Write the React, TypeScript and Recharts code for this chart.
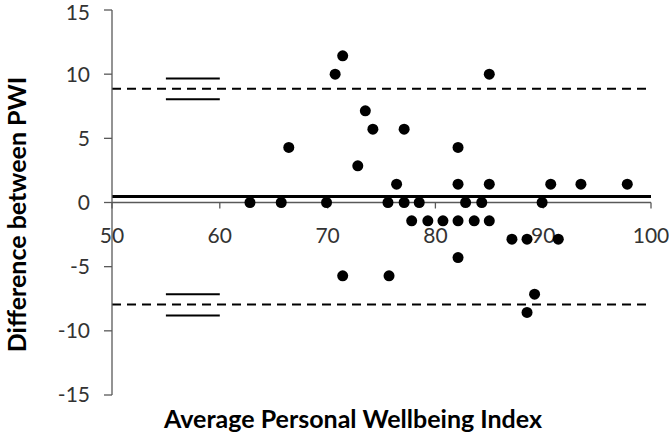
import React from 'react'
import {
  ScatterChart, Scatter, XAxis, YAxis, ReferenceLine, ReferenceDot, Label,
} from 'recharts'

// Bland-Altman: average PWI vs difference
const avgPWI = [
  62.8, 65.7, 69.9, 75.6, 66.4, 70.7, 71.4, 73.5, 74.2, 72.8,
  85.0, 77.1, 82.1, 76.4, 82.1, 85.0, 90.7, 93.5, 97.8,
  77.1, 78.5, 82.8, 84.3, 89.9,
  77.8, 79.3, 80.7, 82.1, 83.6, 85.0,
  87.1, 88.5, 91.4, 82.1, 75.7, 71.4, 89.2, 88.5,
]
const diffPWI = [
  0, 0, 0, 0, 4.29, 10, 11.43, 7.14, 5.71, 2.86,
  10, 5.71, 4.29, 1.43, 1.43, 1.43, 1.43, 1.43, 1.43,
  0, 0, 0, 0, 0,
  -1.43, -1.43, -1.43, -1.43, -1.43, -1.43,
  -2.86, -2.86, -2.86, -4.29, -5.71, -5.71, -7.14, -8.57,
]

const meanDiff = 0.47
const upperLoA = 8.86
const lowerLoA = -7.95
// 95% CI bars of the limits, drawn at x 55..60
const ciX = [55, 60]
const ciValues = [9.66, 8.05, -7.15, -8.8]

const xTicks = [50, 60, 70, 80, 90, 100]
const yTicks = [-15, -10, -5, 0, 5, 10, 15]

const points = avgPWI.map((x, i) => ({ x, y: diffPWI[i] }))

const FONT = 'Lato, "Open Sans", sans-serif'
const AXIS = '#595959'
const TEXT = '#333'

function XTick(label: number) {
  return (p: any) => (
    <g>
      <line x1={p.cx} y1={p.cy} x2={p.cx} y2={p.cy + 6} stroke={AXIS} strokeWidth={1.3} />
      <text x={p.cx} y={p.cy + 40} textAnchor="middle" fontSize={21} fill={TEXT} fontFamily={FONT}>
        {label}
      </text>
    </g>
  )
}

function YTitle(props: any) {
  const vb = props.viewBox || { x: 0, y: 10, width: 112, height: 385 }
  const x = 15.5
  const y = vb.y + vb.height / 2 + 12
  return (
    <text x={x} y={y} transform={`rotate(-90, ${x}, ${y})`} textAnchor="middle"
      dominantBaseline="central" fontSize={25} fontWeight={700} fill="#000" fontFamily={FONT}>
      Difference between PWI
    </text>
  )
}

export default function App() {
  return (
    <div style={{ position: 'absolute', left: 0, top: 0, width: 669, height: 435, background: '#fff' }}>
      <ScatterChart width={669} height={435} margin={{ top: 10, right: 18, bottom: 40, left: 0 }}>
        <XAxis type="number" dataKey="x" domain={[50, 100]} ticks={xTicks} hide />
        <YAxis
          type="number"
          dataKey="y"
          domain={[-15, 15]}
          ticks={yTicks}
          width={112}
          axisLine={{ stroke: AXIS, strokeWidth: 1.3 }}
          tickLine={{ stroke: AXIS, strokeWidth: 1.3 }}
          tickSize={8}
          tickMargin={14}
          tick={{ fill: TEXT, fontSize: 21, fontFamily: FONT }}
        >
          <Label content={YTitle} />
        </YAxis>
        <ReferenceLine y={0} stroke={AXIS} strokeWidth={1.3} />
        <ReferenceLine y={meanDiff} stroke="#000" strokeWidth={3} />
        <ReferenceLine y={upperLoA} stroke="#000" strokeWidth={2} strokeDasharray="9 6" />
        <ReferenceLine y={lowerLoA} stroke="#000" strokeWidth={2} strokeDasharray="9 6" />
        {ciValues.map((v) => (
          <ReferenceLine
            key={v}
            segment={[{ x: ciX[0], y: v }, { x: ciX[1], y: v }]}
            stroke="#000"
            strokeWidth={2}
          />
        ))}
        {xTicks.map((t) => (
          <ReferenceDot key={t} x={t} y={0} r={0} ifOverflow="visible" shape={XTick(t)} />
        ))}
        <Scatter data={points} fill="#000" isAnimationActive={false}
          shape={(p: any) => <circle cx={p.cx} cy={p.cy} r={5.5} fill="#000" />} />
      </ScatterChart>
      <div style={{
        position: 'absolute', left: 353, top: 418, transform: 'translate(-50%, -50%)',
        whiteSpace: 'nowrap', fontFamily: FONT, fontWeight: 700, fontSize: 25, lineHeight: 1, color: '#000',
      }}>
        Average Personal Wellbeing Index
      </div>
    </div>
  )
}
